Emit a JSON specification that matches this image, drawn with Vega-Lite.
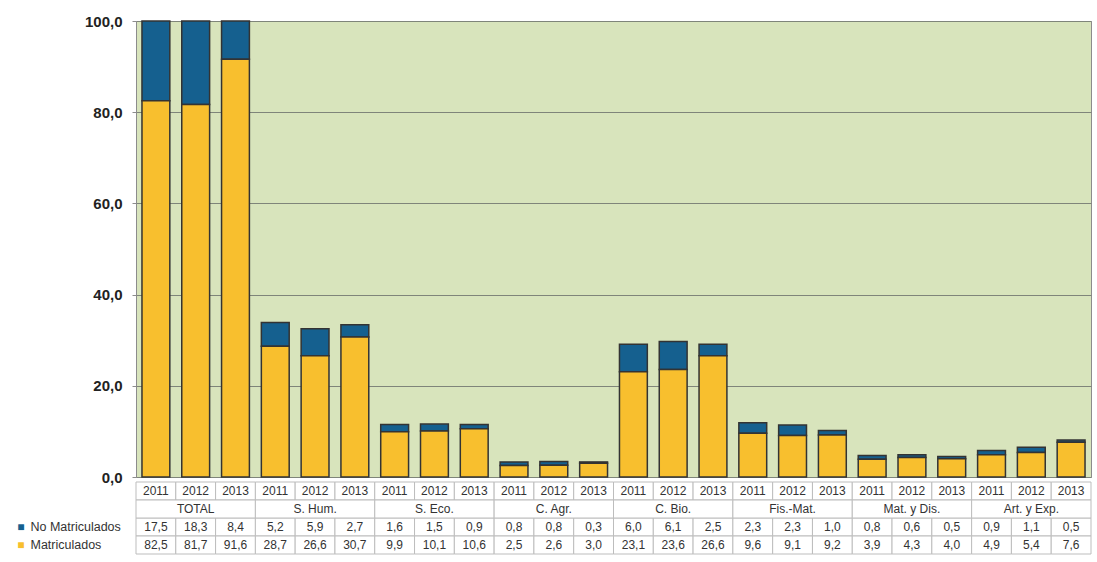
{
  "$schema": "https://vega.github.io/schema/vega-lite/v6.json",
  "background": "white",
  "padding": {"left": 16, "top": 13, "right": 5, "bottom": 5},
  "spacing": 5,
  "bounds": "flush",
  "config": {
    "locale": {"number": {"decimal": ",", "thousands": ".", "grouping": [3], "currency": ["", " €"]}},
    "font": "Liberation Sans",
    "axis": {"labelFont": "Liberation Sans"}
  },
  "datasets": {
    "d": [
      {"cat": "TOTAL", "year": "2011", "no": 17.5, "mat": 82.5},
      {"cat": "TOTAL", "year": "2012", "no": 18.3, "mat": 81.7},
      {"cat": "TOTAL", "year": "2013", "no": 8.4, "mat": 91.6},
      {"cat": "S. Hum.", "year": "2011", "no": 5.2, "mat": 28.7},
      {"cat": "S. Hum.", "year": "2012", "no": 5.9, "mat": 26.6},
      {"cat": "S. Hum.", "year": "2013", "no": 2.7, "mat": 30.7},
      {"cat": "S. Eco.", "year": "2011", "no": 1.6, "mat": 9.9},
      {"cat": "S. Eco.", "year": "2012", "no": 1.5, "mat": 10.1},
      {"cat": "S. Eco.", "year": "2013", "no": 0.9, "mat": 10.6},
      {"cat": "C. Agr.", "year": "2011", "no": 0.8, "mat": 2.5},
      {"cat": "C. Agr.", "year": "2012", "no": 0.8, "mat": 2.6},
      {"cat": "C. Agr.", "year": "2013", "no": 0.3, "mat": 3.0},
      {"cat": "C. Bio.", "year": "2011", "no": 6.0, "mat": 23.1},
      {"cat": "C. Bio.", "year": "2012", "no": 6.1, "mat": 23.6},
      {"cat": "C. Bio.", "year": "2013", "no": 2.5, "mat": 26.6},
      {"cat": "Fis.-Mat.", "year": "2011", "no": 2.3, "mat": 9.6},
      {"cat": "Fis.-Mat.", "year": "2012", "no": 2.3, "mat": 9.1},
      {"cat": "Fis.-Mat.", "year": "2013", "no": 1.0, "mat": 9.2},
      {"cat": "Mat. y Dis.", "year": "2011", "no": 0.8, "mat": 3.9},
      {"cat": "Mat. y Dis.", "year": "2012", "no": 0.6, "mat": 4.3},
      {"cat": "Mat. y Dis.", "year": "2013", "no": 0.5, "mat": 4.0},
      {"cat": "Art. y Exp.", "year": "2011", "no": 0.9, "mat": 4.9},
      {"cat": "Art. y Exp.", "year": "2012", "no": 1.1, "mat": 5.4},
      {"cat": "Art. y Exp.", "year": "2013", "no": 0.5, "mat": 7.6}
    ]
  },
  "vconcat": [
    {
      "width": 955,
      "height": 456,
      "view": {"fill": "#d8e4bc", "stroke": "#8c8c8c"},
      "data": {"name": "d"},
      "transform": [
        {"calculate": "datum.cat + ' ' + datum.year", "as": "key"},
        {"fold": ["no", "mat"], "as": ["serie", "value"]}
      ],
      "mark": {"type": "bar", "stroke": "#333333", "strokeWidth": 1.5},
      "encoding": {
        "x": {"field": "key", "type": "nominal", "sort": null, "axis": null,
              "scale": {"paddingInner": 0.3, "paddingOuter": 0.15}},
        "y": {"field": "value", "type": "quantitative", "stack": "zero",
              "scale": {"domain": [0, 100], "nice": false},
              "axis": {"values": [0, 20, 40, 60, 80, 100], "format": ".1f", "title": null,
                       "labelFontSize": 15, "labelFontWeight": "bold", "labelColor": "#222222",
                       "labelPadding": 10, "tickSize": 4, "tickColor": "#8c8c8c",
                       "domain": false, "gridColor": "#7f857a", "gridWidth": 1, "gridOpacity": 1}},
        "color": {"field": "serie", "type": "nominal", "legend": null,
                  "scale": {"domain": ["no", "mat"], "range": ["#15608f", "#f8bf2e"]}},
        "order": {"field": "serie", "sort": "ascending"}
      }
    },
    {
      "width": 955,
      "height": 72,
      "view": {"stroke": null},
      "data": {"name": "d"},
      "transform": [
        {"calculate": "datum.cat + ' ' + datum.year", "as": "key"}
      ],
      "layer": [
        {
          "transform": [{"fold": ["no", "mat"], "as": ["serie", "value"]}],
          "mark": {"type": "rect", "fill": "white", "stroke": "#bdbdbd", "strokeWidth": 1},
          "encoding": {
            "x": {"field": "key", "type": "nominal", "sort": null, "axis": null,
                  "scale": {"paddingInner": 0, "paddingOuter": 0}},
            "y": {"field": "serie", "type": "nominal",
                  "scale": {"domain": ["year", "cat", "no", "mat"], "paddingInner": 0, "paddingOuter": 0},
                  "axis": {"orient": "left", "title": null, "ticks": false, "domain": false,
                           "labelExpr": "datum.value == 'no' || datum.value == 'mat' ? '■' : ''",
                           "labelPadding": 112, "labelFontSize": 12,
                           "labelColor": {"condition": {"test": "datum.value == 'no'", "value": "#15608f"}, "value": "#f8bf2e"}}}
          }
        },
        {
          "mark": {"type": "rect", "fill": "white", "stroke": "#bdbdbd", "strokeWidth": 1},
          "encoding": {
            "x": {"field": "key", "type": "nominal", "sort": null, "axis": null,
                  "scale": {"paddingInner": 0, "paddingOuter": 0}},
            "y": {"datum": "year", "type": "nominal", "axis": null}
          }
        },
        {
          "transform": [{"aggregate": [{"op": "count", "as": "n"}], "groupby": ["cat"]}],
          "mark": {"type": "rect", "fill": "white", "stroke": "#bdbdbd", "strokeWidth": 1},
          "encoding": {
            "x": {"field": "cat", "type": "nominal", "sort": null, "axis": null,
                  "scale": {"paddingInner": 0, "paddingOuter": 0}},
            "y": {"datum": "cat", "type": "nominal", "axis": null}
          }
        },
        {
          "transform": [{"fold": ["no", "mat"], "as": ["serie", "value"]}],
          "mark": {"type": "text", "fontSize": 12, "color": "#333333"},
          "encoding": {
            "x": {"field": "key", "type": "nominal", "sort": null, "axis": null,
                  "scale": {"paddingInner": 0, "paddingOuter": 0}},
            "y": {"field": "serie", "type": "nominal", "axis": null},
            "text": {"field": "value", "type": "quantitative", "format": ".1f"}
          }
        },
        {
          "mark": {"type": "text", "fontSize": 12, "color": "#333333"},
          "encoding": {
            "x": {"field": "key", "type": "nominal", "sort": null, "axis": null,
                  "scale": {"paddingInner": 0, "paddingOuter": 0}},
            "y": {"datum": "year", "type": "nominal", "axis": null},
            "text": {"field": "year", "type": "nominal"}
          }
        },
        {
          "transform": [{"aggregate": [{"op": "count", "as": "n"}], "groupby": ["cat"]}],
          "mark": {"type": "text", "fontSize": 12, "color": "#333333"},
          "encoding": {
            "x": {"field": "cat", "type": "nominal", "sort": null, "axis": null,
                  "scale": {"paddingInner": 0, "paddingOuter": 0}},
            "y": {"datum": "cat", "type": "nominal", "axis": null},
            "text": {"field": "cat", "type": "nominal"}
          }
        },
        {
          "transform": [{"fold": ["no", "mat"], "as": ["serie", "value"]}],
          "mark": {"type": "text", "opacity": 0},
          "encoding": {
            "x": {"field": "key", "type": "nominal", "sort": null, "axis": null,
                  "scale": {"paddingInner": 0, "paddingOuter": 0}},
            "y": {"field": "serie", "type": "nominal",
                  "axis": {"orient": "left", "title": null, "ticks": false, "domain": false,
                           "labelExpr": "datum.value == 'no' ? 'No Matriculados' : datum.value == 'mat' ? 'Matriculados' : ''",
                           "labelAlign": "left", "labelPadding": 106, "labelFontSize": 12.5, "labelColor": "#333333"}},
            "text": {"value": ""}
          }
        }
      ],
      "resolve": {"scale": {"x": "independent"}, "axis": {"y": "independent"}}
    }
  ]
}
